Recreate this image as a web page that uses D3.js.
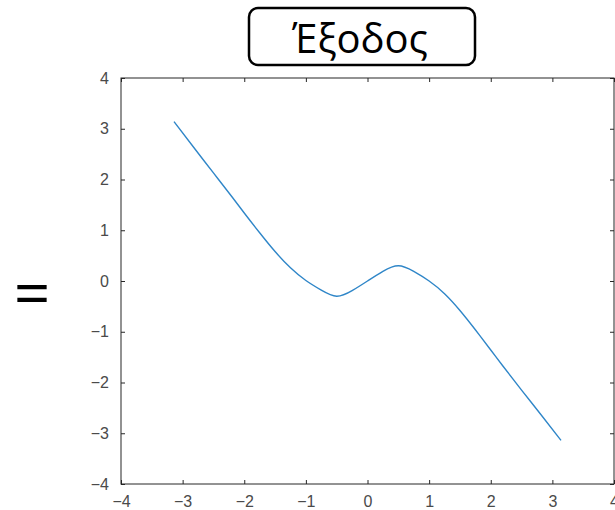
<!DOCTYPE html>
<html>
<head>
<meta charset="utf-8">
<script src="https://cdn.jsdelivr.net/npm/d3@7"></script>
<style>
    body { margin: 0; background: #fff; }
    svg { display: block; }
</style>
</head>
<body>
<svg width="615" height="510"></svg>
<script>
// values
const xValues = [-3.14, -2.8, -2.5, -2.2, -2.0, -1.75, -1.5, -1.25, -1.0, -0.75, -0.5, -0.25, 0,
                 0.25, 0.5, 0.75, 1.0, 1.25, 1.5, 1.75, 2.0, 2.2, 2.5, 2.8, 3.14];
const yValues = [3.14, 2.60, 2.13, 1.66, 1.34, 0.95, 0.58, 0.26, 0.01, -0.18, -0.30, -0.19, 0.0,
                 0.19, 0.30, 0.19, 0.0, -0.25, -0.58, -0.96, -1.36, -1.68, -2.15, -2.61, -3.14];
const xTicks = [-4, -3, -2, -1, 0, 1, 2, 3, 4];
const yTicks = [-4, -3, -2, -1, 0, 1, 2, 3, 4];
const titleText = "Έξοδος";

const svg = d3.select("svg");

const x = d3.scaleLinear().domain([-4, 4]).range([121, 614]);
const y = d3.scaleLinear().domain([-4, 4]).range([484, 78]);

const axisColor = "#262626";
const labelColor = "#4a4a4a";

// the plot box
svg.append("rect")
    .attr("x", x(-4))
    .attr("y", y(4))
    .attr("width", x(4) - x(-4))
    .attr("height", y(-4) - y(4))
    .attr("fill", "none")
    .attr("stroke", axisColor)
    .attr("stroke-width", 1);

// inward ticks on all four sides
function styleAxis(g) {
    g.select(".domain").remove();
    g.selectAll(".tick line").attr("stroke", axisColor);
    g.selectAll(".tick text")
        .attr("fill", labelColor)
        .attr("font-family", "'Liberation Sans', Arial, sans-serif")
        .attr("font-size", 16);
}

svg.append("g")
    .attr("transform", "translate(0," + y(-4) + ")")
    .call(d3.axisBottom(x).tickValues(xTicks).tickSize(-4).tickPadding(12).tickFormat(d3.format("d")))
    .call(styleAxis);

svg.append("g")
    .attr("transform", "translate(" + x(-4) + ",0)")
    .call(d3.axisLeft(y).tickValues(yTicks).tickSize(-4).tickPadding(12).tickFormat(d3.format("d")))
    .call(styleAxis);

svg.append("g")
    .attr("transform", "translate(0," + y(4) + ")")
    .call(d3.axisTop(x).tickValues(xTicks).tickSize(-4).tickFormat(""))
    .call(styleAxis);

svg.append("g")
    .attr("transform", "translate(" + x(4) + ",0)")
    .call(d3.axisRight(y).tickValues(yTicks).tickSize(-4).tickFormat(""))
    .call(styleAxis);

// the curve
const points = xValues.map(function (v, i) { return [v, yValues[i]]; });

const line = d3.line()
    .x(function (d) { return x(d[0]); })
    .y(function (d) { return y(d[1]); })
    .curve(d3.curveNatural);

svg.append("path")
    .datum(points)
    .attr("d", line)
    .attr("fill", "none")
    .attr("stroke", "#2f86c8")
    .attr("stroke-width", 1.4);

// title box
svg.append("rect")
    .attr("x", 249)
    .attr("y", 8)
    .attr("width", 226)
    .attr("height", 57)
    .attr("rx", 9)
    .attr("fill", "#fff")
    .attr("stroke", "#000")
    .attr("stroke-width", 2.5);

svg.append("text")
    .attr("x", 360)
    .attr("y", 53)
    .attr("text-anchor", "middle")
    .attr("font-family", "'Open Sans', sans-serif")
    .attr("font-size", 40)
    .attr("fill", "#000")
    .text(titleText);

// equals sign on the left
svg.append("text")
    .attr("x", 32)
    .attr("y", 316)
    .attr("text-anchor", "middle")
    .attr("font-family", "'Open Sans', sans-serif")
    .attr("font-size", 64)
    .attr("fill", "#000")
    .text("=");
</script>
</body>
</html>
